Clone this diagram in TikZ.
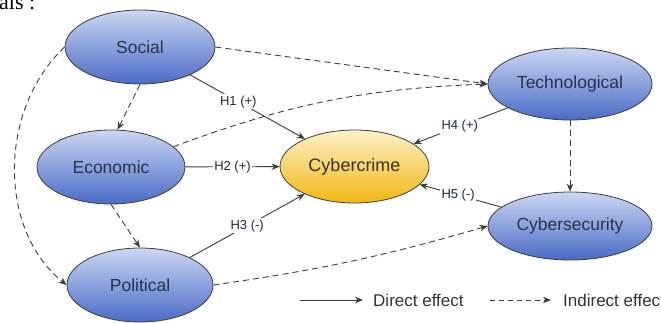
\documentclass[tikz,border=0pt]{standalone}
\usepackage{fontspec}
\setmainfont{Liberation Sans}
\newfontfamily\serifpart{Liberation Serif}
\usetikzlibrary{shapes.geometric,arrows.meta}
\definecolor{bluetop}{HTML}{CBD7F3}
\definecolor{bluebot}{HTML}{4A6BC6}
\definecolor{yeltop}{HTML}{FDF1C8}
\definecolor{yelbot}{HTML}{F2B714}
\definecolor{txtblue}{HTML}{28324E}
\definecolor{txtyel}{HTML}{3A321E}
\definecolor{linec}{HTML}{3C3C3C}
\tikzset{
  factor/.style={ellipse, draw=linec, line width=0.8pt, inner sep=0pt,
    top color=bluetop, bottom color=bluebot, text=txtblue,
    font=\fontsize{17.5}{20}\selectfont},
  crime/.style={ellipse, draw=linec, line width=0.8pt, inner sep=0pt,
    top color=yeltop, bottom color=yelbot, text=txtyel,
    font=\fontsize{18}{20}\selectfont},
  direct/.style={draw=linec, line width=0.9pt, -{Stealth[length=8pt,width=6.5pt]}},
  indirect/.style={draw=linec, line width=0.9pt, dash pattern=on 6pt off 4pt,
    -{Stealth[length=8pt,width=6.5pt]}},
  hlbl/.style={fill=white, inner sep=1.5pt, text=txtblue!80!black,
    font=\fontsize{13}{15}\selectfont},
  legtext/.style={anchor=west, inner sep=0pt, text=black!80,
    font=\fontsize{17}{19}\selectfont}
}
\begin{document}
\begin{tikzpicture}[x=1pt,y=-1pt]
\clip (0,0) rectangle (661,323);
\fill[white] (0,0) rectangle (661,323);
\node[anchor=base west, inner sep=0pt, font=\serifpart\fontsize{22}{24}\selectfont] (frag) at (-1,10) {als :};

\node[factor, minimum width=150pt, minimum height=74pt] (soc) at (140,47) {Social};
\node[factor, minimum width=148pt, minimum height=74pt] (eco) at (111,167) {Economic};
\node[factor, minimum width=146pt, minimum height=74pt] (pol) at (140,285) {Political};
\node[crime, minimum width=149pt, minimum height=73pt] (cyb) at (354.5,166.5) {Cybercrime};
\node[factor, minimum width=164pt, minimum height=72pt] (tech) at (570,84) {Technological};
\node[factor, minimum width=164pt, minimum height=68pt] (sec) at (570,226) {Cybersecurity};

% indirect effects
\draw[indirect] (soc.east) -- (tech.west);
\draw[indirect] (eco.18) to[bend left=9] (tech.west);
\draw[indirect] (soc.south) -- (eco.80);
\draw[indirect] (soc.west) .. controls (-2,110) and (-2,230) .. (pol.west);
\draw[indirect] (eco.south) -- (pol.north);
\draw[indirect] (tech.south) -- (sec.north);
\draw[indirect] (pol.east) to[bend right=4] (sec.west);

% direct effects
\draw[direct] (soc) -- node[hlbl, pos=0.42] (h1) {H1 (+)} (cyb);
\draw[direct] (eco) -- node[hlbl, pos=0.5] (h2) {H2 (+)} (cyb);
\draw[direct] (pol) -- node[hlbl, pos=0.5] (h3) {H3 (-)} (cyb);
\draw[direct] (tech) -- node[hlbl, pos=0.51] (h4) {H4 (+)} (cyb);
\draw[direct] (sec) -- node[hlbl, pos=0.53] (h5) {H5 (-)} (cyb);

% legend
\coordinate (ds) at (300,300);
\coordinate (de) at (363,300);
\coordinate (is) at (490,300);
\coordinate (ie) at (551,300);
\draw[direct] (ds) -- (de);
\node[legtext] (dl) at (373,300) {Direct effect};
\draw[indirect, dash pattern=on 5pt off 4pt] (is) -- (ie);
\node[legtext] (il) at (563,300) {Indirect effect};
\end{tikzpicture}
\end{document}
